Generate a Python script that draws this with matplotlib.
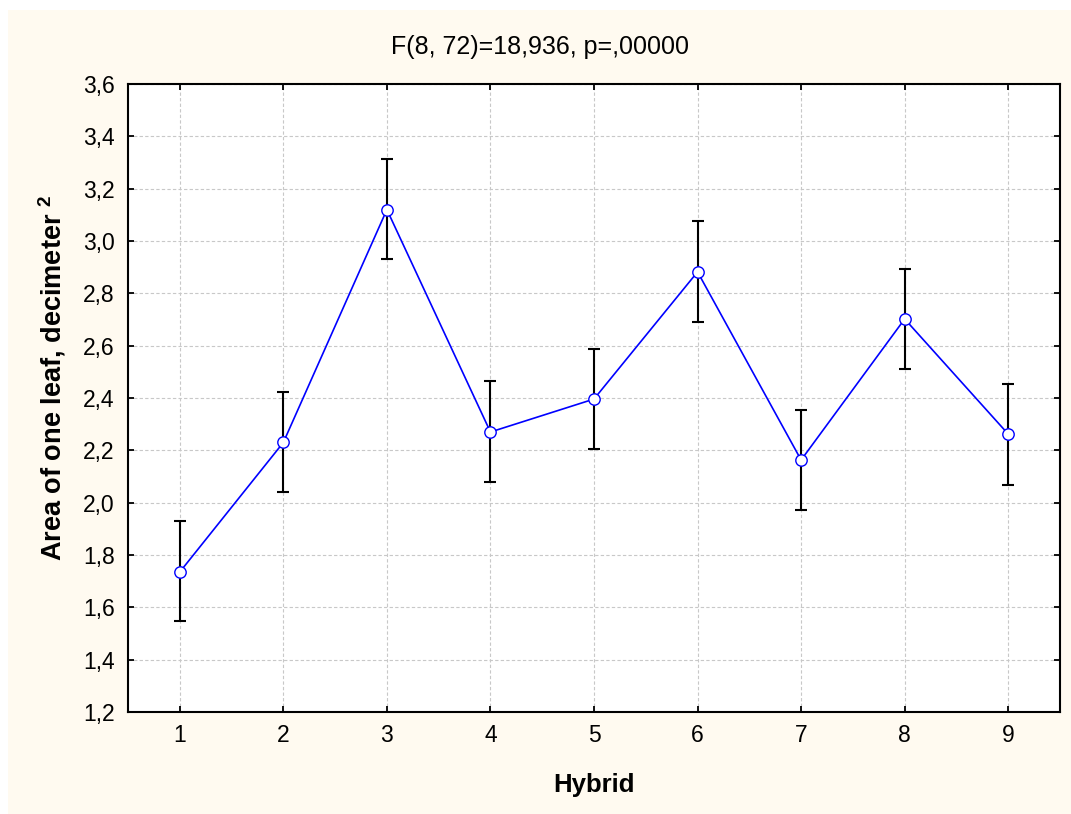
import matplotlib
matplotlib.use("Agg")
import matplotlib.pyplot as plt
from matplotlib.patches import Rectangle
from matplotlib.ticker import FuncFormatter

hybrids = [1, 2, 3, 4, 5, 6, 7, 8, 9]
means = [1.735, 2.230, 3.120, 2.270, 2.396, 2.882, 2.163, 2.702, 2.262]
upper = [1.930, 2.423, 3.313, 2.465, 2.588, 3.076, 2.354, 2.893, 2.452]
lower = [1.548, 2.041, 2.931, 2.079, 2.205, 2.690, 1.972, 2.511, 2.069]
yticks = [1.2, 1.4, 1.6, 1.8, 2.0, 2.2, 2.4, 2.6, 2.8, 3.0, 3.2, 3.4, 3.6]
title = "F(8, 72)=18,936, p=,00000"
xlabel = "Hybrid"
ylabel = r"Area of one leaf, decimeter $^\mathbf{2}$"

plt.rcParams['font.family'] = ['Liberation Sans', 'DejaVu Sans']
plt.rcParams['mathtext.fontset'] = 'custom'
plt.rcParams['mathtext.rm'] = 'Liberation Sans'
plt.rcParams['mathtext.bf'] = 'Liberation Sans:bold'

W, H = 1071, 814
fig = plt.figure(figsize=(W / 100, H / 100), dpi=100, facecolor='white')
fig.patches.append(Rectangle((8 / W, -0.05), 1.1, 1.05 - 10 / H, transform=fig.transFigure,
                             facecolor='#FFFAF0', edgecolor='none', zorder=-10))

ax = fig.add_axes([128 / W, 1 - 712 / H, (1060 - 128) / W, (712 - 84) / H])
ax.set_facecolor('white')

yerr = [[m - l for m, l in zip(means, lower)], [u - m for u, m in zip(upper, means)]]
ax.plot(hybrids, means, color='#0000FF', lw=1.2, zorder=3)
ax.errorbar(hybrids, means, yerr=yerr, fmt='none', ecolor='black', elinewidth=1.5,
            capsize=4.3, capthick=1.5, zorder=4)
ax.plot(hybrids, means, linestyle='none', marker='o', markersize=8.2,
        markerfacecolor='white', markeredgecolor='#0000FF', markeredgewidth=1.0, zorder=5)

ax.set_xlim(0.5, 9.5)
ax.set_ylim(1.2, 3.6)
ax.set_xticks(hybrids)
ax.set_yticks(yticks)
ax.yaxis.set_major_formatter(FuncFormatter(lambda v, p: f"{v:.1f}".replace('.', ',')))

ax.grid(True, color='#c8c8c8', linestyle=(0, (3, 2)), linewidth=0.8, zorder=1)
ax.set_axisbelow(True)
for s in ax.spines.values():
    s.set_linewidth(1.5)
    s.set_color('black')
ax.tick_params(axis='both', which='both', direction='in', length=4.5, width=1.3,
               top=True, right=True, labelsize=16.5, colors='black')
ax.tick_params(axis='y', pad=9.5)
ax.tick_params(axis='x', pad=8.5)

ax.set_xlabel(xlabel, fontsize=18.5, fontweight='bold')
ax.xaxis.set_label_coords(0.5, -(785 - 712) / 628, transform=ax.transAxes)
ax.xaxis.label.set_verticalalignment('center')
ax.set_ylabel(ylabel, fontsize=19.5, fontweight='bold')
ax.yaxis.set_label_coords(-(128 - 52) / 932, (712 - 378) / 628)
ax.yaxis.label.set_verticalalignment('center')

fig.text(540 / W, 1 - 47 / H, title, fontsize=18, ha='center', va='center')

fig.savefig('out.png', dpi=100, facecolor=fig.get_facecolor())
